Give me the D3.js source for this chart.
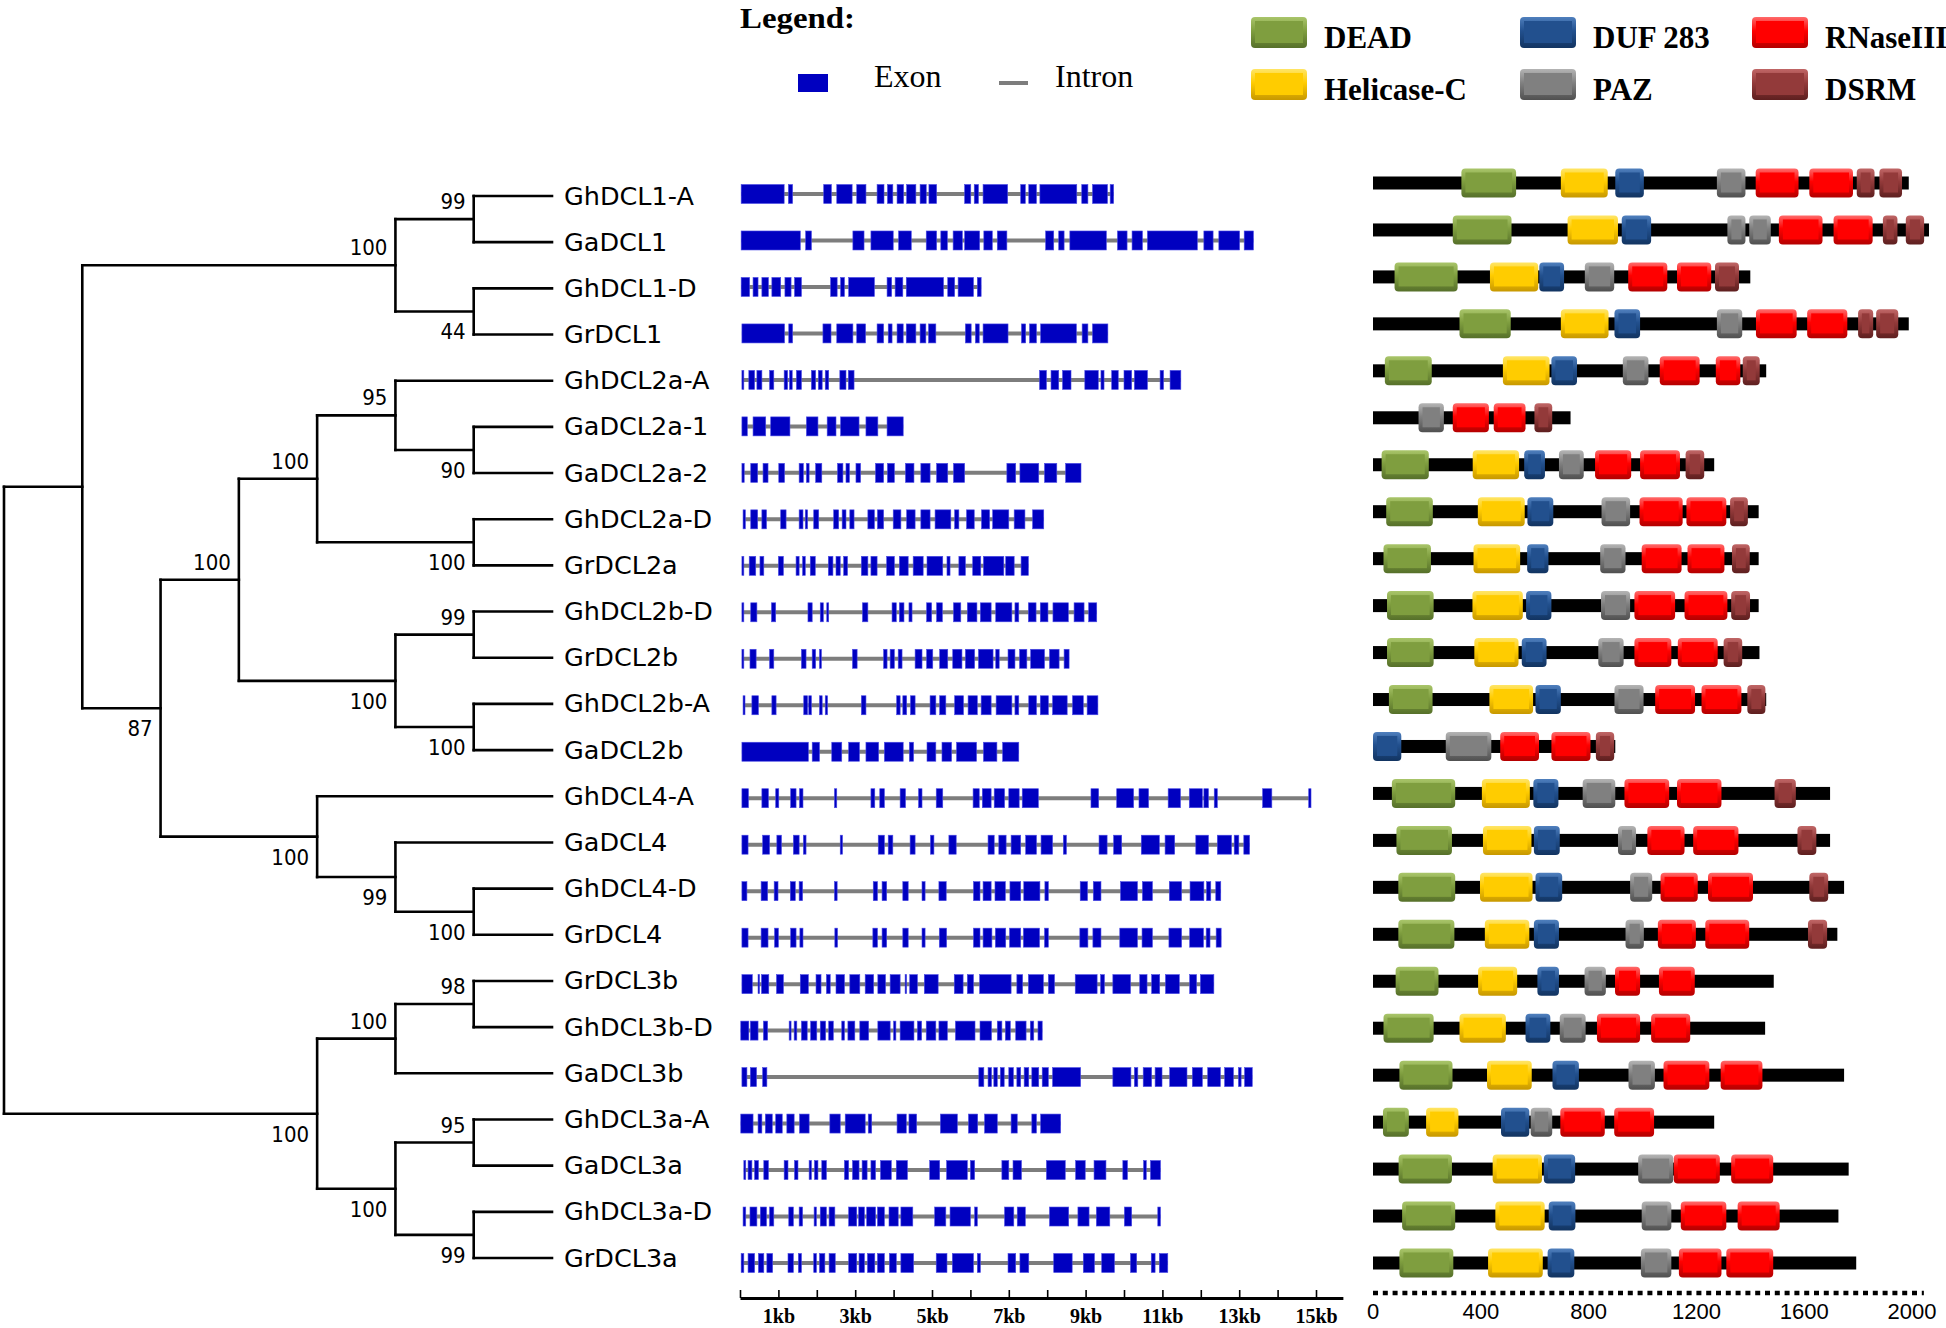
<!DOCTYPE html>
<html><head><meta charset="utf-8">
<script src="https://cdn.jsdelivr.net/npm/d3@7"></script>
<style>body{margin:0;background:#fff} svg{display:block}</style>
</head><body>
<svg id="chart" width="1946" height="1328"></svg>
<script>
// ---------------- DATA ----------------
const newick = "((((GhDCL1-A,GaDCL1)99,(GhDCL1-D,GrDCL1)44)100,((((GhDCL2a-A,(GaDCL2a-1,GaDCL2a-2)90)95,(GhDCL2a-D,GrDCL2a)100)100,((GhDCL2b-D,GrDCL2b)99,(GhDCL2b-A,GaDCL2b)100)100)100,(GhDCL4-A,(GaDCL4,(GhDCL4-D,GrDCL4)100)99)100)87),(((GrDCL3b,GhDCL3b-D)98,GaDCL3b)100,((GhDCL3a-A,GaDCL3a)95,(GhDCL3a-D,GrDCL3a)99)100)100);";

// exon coordinates (kb) per gene, in tree order
const exons = [
 [[0.03,1.15],[1.26,1.37],[2.18,2.38],[2.52,2.92],[3.04,3.28],[3.57,3.75],[3.84,3.98],[4.09,4.26],[4.34,4.58],[4.69,4.85],[4.92,5.12],[5.85,6.01],[6.1,6.21],[6.33,6.97],[7.31,7.43],[7.52,7.72],[7.81,8.77],[8.9,9.06],[9.18,9.57],[9.64,9.73]],
 [[0.03,1.57],[1.71,1.86],[2.94,3.23],[3.41,3.99],[4.13,4.46],[4.85,5.12],[5.23,5.4],[5.55,5.79],[5.85,6.24],[6.35,6.57],[6.7,6.95],[7.96,8.17],[8.3,8.44],[8.59,9.54],[9.83,10.08],[10.21,10.48],[10.61,11.91],[12.08,12.32],[12.47,13.01],[13.13,13.37]],
 [[0.03,0.25],[0.34,0.47],[0.57,0.74],[0.83,1.06],[1.17,1.33],[1.42,1.6],[2.36,2.53],[2.62,2.72],[2.83,3.5],[3.83,3.95],[4.04,4.24],[4.33,5.3],[5.41,5.59],[5.68,6.08],[6.18,6.28]],
 [[0.05,1.16],[1.27,1.37],[2.16,2.37],[2.52,2.94],[3.04,3.27],[3.57,3.74],[3.86,3.96],[4.09,4.25],[4.33,4.58],[4.69,4.84],[4.91,5.1],[5.87,6.02],[6.13,6.23],[6.33,6.98],[7.33,7.44],[7.54,7.72],[7.83,8.76],[8.91,9.06],[9.18,9.58]],
 [[0.05,0.1],[0.23,0.38],[0.44,0.57],[0.77,0.88],[1.15,1.24],[1.29,1.36],[1.47,1.6],[1.86,1.97],[2.04,2.14],[2.22,2.31],[2.6,2.76],[2.82,2.97],[7.8,7.98],[8.1,8.3],[8.4,8.62],[8.98,9.33],[9.4,9.48],[9.68,9.85],[10.0,10.2],[10.27,10.61],[10.94,11.03],[11.2,11.48]],
 [[0.05,0.19],[0.34,0.67],[0.8,1.3],[1.73,2.03],[2.27,2.5],[2.62,3.1],[3.28,3.59],[3.83,4.25]],
 [[0.05,0.11],[0.28,0.46],[0.6,0.73],[1.01,1.16],[1.54,1.65],[1.73,1.8],[1.97,2.13],[2.54,2.68],[2.76,2.85],[3.02,3.14],[3.53,3.74],[3.84,4.02],[4.31,4.53],[4.71,4.95],[5.12,5.41],[5.56,5.85],[6.95,7.18],[7.29,7.78],[7.93,8.25],[8.48,8.88]],
 [[0.08,0.14],[0.28,0.46],[0.57,0.69],[1.06,1.2],[1.54,1.64],[1.7,1.76],[1.92,2.05],[2.44,2.57],[2.66,2.76],[2.86,2.97],[3.33,3.5],[3.58,3.74],[3.99,4.19],[4.34,4.56],[4.71,4.95],[5.08,5.49],[5.59,5.7],[5.9,6.1],[6.29,6.5],[6.58,7.0],[7.14,7.42],[7.62,7.91]],
 [[0.05,0.1],[0.24,0.41],[0.52,0.62],[1.0,1.13],[1.46,1.54],[1.63,1.7],[1.83,1.96],[2.3,2.42],[2.5,2.61],[2.7,2.8],[3.16,3.33],[3.41,3.57],[3.82,4.02],[4.15,4.38],[4.51,4.77],[4.87,5.28],[5.39,5.47],[5.7,5.87],[6.06,6.27],[6.34,6.87],[6.92,7.14],[7.32,7.51]],
 [[0.05,0.1],[0.28,0.44],[0.82,0.93],[1.77,1.88],[2.09,2.17],[2.26,2.31],[3.19,3.33],[3.96,4.07],[4.15,4.27],[4.4,4.48],[4.86,4.99],[5.12,5.27],[5.56,5.75],[5.92,6.17],[6.26,6.54],[6.66,7.08],[7.16,7.26],[7.51,7.71],[7.82,8.02],[8.15,8.55],[8.7,8.96],[9.08,9.29]],
 [[0.05,0.1],[0.26,0.42],[0.77,0.88],[1.6,1.72],[1.88,1.97],[2.07,2.12],[2.93,3.05],[3.74,3.83],[3.91,4.02],[4.12,4.22],[4.56,4.74],[4.86,5.02],[5.2,5.41],[5.54,5.78],[5.87,6.11],[6.21,6.59],[6.66,6.75],[6.98,7.16],[7.28,7.47],[7.57,7.93],[8.06,8.31],[8.44,8.57]],
 [[0.08,0.13],[0.31,0.48],[0.83,0.94],[1.66,1.76],[1.79,1.86],[2.07,2.14],[2.22,2.28],[3.16,3.28],[4.08,4.17],[4.24,4.34],[4.44,4.56],[4.95,5.1],[5.2,5.36],[5.59,5.82],[5.94,6.18],[6.28,6.54],[6.67,7.08],[7.16,7.26],[7.52,7.72],[7.82,8.03],[8.14,8.52],[8.66,8.94],[9.04,9.32]],
 [[0.05,1.78],[1.88,2.07],[2.39,2.65],[2.83,3.11],[3.28,3.61],[3.76,4.25],[4.41,4.52],[4.87,5.1],[5.26,5.51],[5.64,6.16],[6.34,6.69],[6.84,7.26]],
 [[0.05,0.22],[0.57,0.74],[0.93,1.01],[1.32,1.46],[1.55,1.64],[2.46,2.52],[3.41,3.51],[3.64,3.76],[4.17,4.31],[4.65,4.74],[5.11,5.28],[6.07,6.23],[6.31,6.54],[6.62,6.89],[7.0,7.27],[7.35,7.77],[9.14,9.34],[9.81,10.25],[10.39,10.64],[11.15,11.47],[11.7,12.04],[12.08,12.2],[12.35,12.43],[13.61,13.85],[14.81,14.87]],
 [[0.05,0.21],[0.59,0.77],[0.96,1.08],[1.39,1.54],[1.65,1.72],[2.61,2.67],[3.6,3.76],[3.86,3.98],[4.43,4.56],[4.96,5.05],[5.44,5.63],[6.46,6.62],[6.74,6.93],[7.06,7.31],[7.44,7.72],[7.84,8.14],[8.42,8.5],[9.35,9.56],[9.73,9.94],[10.45,10.92],[11.07,11.32],[11.87,12.2],[12.43,12.8],[12.87,12.99],[13.12,13.27]],
 [[0.05,0.18],[0.55,0.72],[0.89,0.99],[1.31,1.44],[1.54,1.63],[2.46,2.53],[3.47,3.58],[3.7,3.82],[4.24,4.38],[4.74,4.82],[5.18,5.37],[6.08,6.25],[6.33,6.54],[6.64,6.91],[7.03,7.31],[7.39,7.81],[7.94,8.03],[8.86,9.05],[9.2,9.4],[9.91,10.35],[10.48,10.74],[11.18,11.5],[11.72,12.08],[12.15,12.26],[12.39,12.52]],
 [[0.05,0.21],[0.55,0.73],[0.9,1.0],[1.32,1.46],[1.56,1.64],[2.47,2.54],[3.46,3.58],[3.7,3.82],[4.24,4.38],[4.74,4.82],[5.19,5.38],[6.08,6.25],[6.33,6.56],[6.65,6.92],[7.02,7.31],[7.38,7.8],[7.93,8.03],[8.85,9.06],[9.19,9.4],[9.89,10.35],[10.47,10.74],[11.17,11.5],[11.71,12.07],[12.14,12.24],[12.4,12.53]],
 [[0.05,0.32],[0.47,0.5],[0.56,0.75],[0.95,1.13],[1.57,1.78],[1.98,2.11],[2.25,2.35],[2.5,2.72],[2.86,3.12],[3.26,3.48],[3.59,3.79],[3.91,4.17],[4.3,4.33],[4.42,4.62],[4.8,5.16],[5.58,5.81],[5.92,6.08],[6.24,7.06],[7.21,7.36],[7.51,7.9],[8.03,8.19],[8.73,9.3],[9.39,9.49],[9.71,10.17],[10.41,10.6],[10.72,10.93],[11.08,11.44],[11.71,11.89],[11.99,12.34]],
 [[0.02,0.23],[0.27,0.47],[0.61,0.72],[1.28,1.33],[1.41,1.48],[1.6,1.75],[1.84,2.0],[2.09,2.23],[2.31,2.43],[2.65,2.72],[2.81,2.99],[3.12,3.35],[3.59,3.91],[4.0,4.06],[4.17,4.53],[4.62,4.73],[4.85,5.1],[5.18,5.4],[5.61,6.12],[6.25,6.55],[6.7,6.82],[6.91,7.04],[7.18,7.45],[7.56,7.65],[7.76,7.87]],
 [[0.05,0.18],[0.27,0.43],[0.59,0.7],[6.22,6.35],[6.46,6.55],[6.61,6.7],[6.78,6.88],[7.0,7.12],[7.21,7.31],[7.4,7.52],[7.6,7.78],[7.87,8.03],[8.14,8.87],[9.71,10.18],[10.27,10.36],[10.5,10.72],[10.81,10.99],[11.19,11.64],[11.78,12.04],[12.18,12.51],[12.62,12.85],[12.98,13.05],[13.14,13.34]],
 [[0.02,0.34],[0.47,0.57],[0.66,0.84],[0.93,1.1],[1.22,1.41],[1.55,1.8],[2.34,2.61],[2.74,3.26],[3.34,3.43],[4.09,4.33],[4.4,4.6],[5.22,5.66],[5.95,6.19],[6.37,6.7],[7.06,7.22],[7.6,7.72],[7.83,8.35]],
 [[0.1,0.15],[0.21,0.31],[0.38,0.48],[0.62,0.74],[1.15,1.25],[1.42,1.51],[1.8,1.86],[1.94,2.03],[2.13,2.25],[2.72,2.83],[2.93,3.1],[3.18,3.31],[3.41,3.53],[3.66,3.94],[4.07,4.36],[4.94,5.2],[5.38,5.92],[6.0,6.11],[6.82,7.0],[7.11,7.33],[7.98,8.47],[8.74,8.99],[9.22,9.53],[9.97,10.09],[10.51,10.58],[10.69,10.95]],
 [[0.08,0.15],[0.26,0.44],[0.53,0.69],[0.77,0.88],[1.27,1.39],[1.54,1.63],[1.93,1.99],[2.09,2.25],[2.32,2.47],[2.83,3.04],[3.09,3.24],[3.3,3.53],[3.58,3.76],[3.88,4.12],[4.19,4.5],[5.07,5.36],[5.47,6.0],[6.11,6.18],[6.89,7.13],[7.22,7.43],[8.06,8.56],[8.8,9.09],[9.28,9.63],[10.01,10.2],[10.88,10.95]],
 [[0.03,0.1],[0.21,0.38],[0.48,0.62],[0.7,0.85],[1.25,1.39],[1.52,1.6],[1.92,1.99],[2.07,2.21],[2.32,2.48],[2.83,3.04],[3.1,3.24],[3.32,3.51],[3.58,3.76],[3.89,4.07],[4.19,4.52],[5.11,5.39],[5.53,6.08],[6.18,6.26],[6.98,7.18],[7.29,7.52],[8.17,8.65],[8.94,9.23],[9.42,9.75],[10.17,10.33],[10.71,10.81],[10.92,11.14]]
];

// protein lengths (aa) and domains [type, start, end] (aa), in tree order
const proteinLengths = [1988,2063,1400,1988,1459,733,1266,1431,1431,1431,1434,1459,899,1696,1696,1748,1723,1487,1455,1748,1266,1765,1727,1793];
const domains = [
 [["D",328,531],["H",697,871],["U",899,1005],["P",1276,1382],["R",1420,1579],["R",1619,1781],["S",1795,1861],["S",1879,1963]],
 [["D",296,514],["H",722,909],["U",923,1032],["P",1315,1382],["P",1396,1476],["R",1506,1668],["R",1709,1854],["S",1892,1946],["S",1977,2045]],
 [["D",80,314],["H",434,613],["U",617,709],["P",786,895],["R",947,1092],["R",1128,1255],["S",1269,1358]],
 [["D",321,511],["H",697,874],["U",896,991],["P",1276,1370],["R",1421,1572],["R",1611,1760],["S",1800,1856],["S",1867,1949]],
 [["D",44,218],["H",482,655],["U",662,757],["P",927,1022],["R",1064,1212],["R",1272,1363],["S",1372,1435]],
 [["P",169,263],["R",296,430],["R",448,566],["S",599,665]],
 [["D",32,207],["H",370,542],["U",561,638],["P",690,782],["R",824,958],["R",991,1139],["S",1160,1229]],
 [["D",49,222],["H",389,563],["U",573,669],["P",848,954],["R",989,1149],["R",1163,1311],["S",1325,1391]],
 [["D",39,215],["H",373,546],["U",572,651],["P",843,937],["R",997,1145],["R",1167,1304],["S",1332,1398]],
 [["D",52,225],["H",369,556],["U",568,662],["P",846,954],["R",970,1121],["R",1156,1315],["S",1329,1399]],
 [["D",52,225],["H",376,540],["U",552,644],["P",836,930],["R",970,1107],["R",1131,1279],["S",1301,1370]],
 [["D",59,221],["H",432,594],["U",603,697],["P",896,1004],["R",1047,1195],["R",1219,1367],["S",1389,1456]],
 [["U",0,105],["P",270,439],["R",472,616],["R",662,807],["S",827,895]],
 [["D",70,305],["H",404,582],["U",595,688],["P",778,899],["R",933,1099],["R",1128,1293],["S",1490,1569]],
 [["D",87,293],["H",408,588],["U",597,693],["P",909,976],["R",1018,1156],["R",1188,1356],["S",1575,1645]],
 [["D",94,305],["H",397,592],["U",603,702],["P",954,1036],["R",1067,1205],["R",1243,1410],["S",1619,1689]],
 [["D",94,302],["H",415,580],["U",597,690],["P",937,1005],["R",1057,1198],["R",1233,1396],["S",1614,1685]],
 [["D",84,243],["H",390,535],["U",610,690],["P",785,864],["R",898,991],["R",1061,1194]],
 [["D",39,225],["H",321,493],["U",566,658],["P",693,789],["R",831,991],["R",1032,1177]],
 [["D",98,295],["H",423,589],["U",666,764],["P",948,1046],["R",1078,1248],["R",1290,1445]],
 [["D",37,133],["H",197,317],["U",475,580],["P",585,665],["R",695,860],["R",895,1043]],
 [["D",95,293],["H",444,627],["U",634,750],["P",984,1114],["R",1116,1287],["R",1329,1485]],
 [["D",108,305],["H",454,637],["U",652,751],["P",997,1107],["R",1142,1311],["R",1353,1509]],
 [["D",98,298],["H",427,630],["U",648,747],["P",994,1107],["R",1135,1293],["R",1311,1485]]
];

const domainKeys = ["D","H","U","P","R","S"];
const domainLabels = ["DEAD","Helicase-C","DUF 283","PAZ","RNaseIII","DSRM"];
const domainFace  = ["#7f9e3f","#ffcc00","#22508e","#808080","#ff0000","#933a3a"];
const domainLight = ["#a9c56a","#ffe566","#4f7fbd","#b4b4b4","#ff6a6a","#c06666"];
const domainDark  = ["#56702a","#c79800","#123461","#505050","#b40000","#5e1f1f"];

const kbTicks = d3.range(0, 16);
const aaTicks = [0, 400, 800, 1200, 1600, 2000];

// ---------------- HELPERS ----------------
function parseNewick(s){
  let i = 0;
  function node(){
    const n = {};
    if (s[i] === '('){
      i++; n.children = [node()];
      while (s[i] === ','){ i++; n.children.push(node()); }
      i++;
    }
    let tok = '';
    while (i < s.length && !',();'.includes(s[i])) tok += s[i++];
    if (n.children){ if (tok) n.support = +tok; } else n.name = tok;
    return n;
  }
  return node();
}

const svg = d3.select("#chart");
const defs = svg.append("defs");
domainKeys.forEach((k, i) => {
  const g = defs.append("linearGradient").attr("id", "bev-" + k)
    .attr("x1", 0).attr("y1", 0).attr("x2", 0).attr("y2", 1);
  g.append("stop").attr("offset", "0%").attr("stop-color", domainLight[i]);
  g.append("stop").attr("offset", "45%").attr("stop-color", domainFace[i]);
  g.append("stop").attr("offset", "100%").attr("stop-color", domainDark[i]);
});

function bevelBox(g, x, y, w, h, k){
  const i = domainKeys.indexOf(k);
  g.append("rect").attr("x", x).attr("y", y).attr("width", w).attr("height", h)
    .attr("rx", 4).attr("fill", "url(#bev-" + k + ")");
  const ins = Math.min(4, w / 4);
  g.append("rect").attr("x", x + ins).attr("y", y + 4).attr("width", Math.max(w - 2 * ins, 1))
    .attr("height", h - 9).attr("fill", domainFace[i]);
}

// ---------------- TREE ----------------
const root = d3.hierarchy(parseNewick(newick));
const names = root.leaves().map(d => d.data.name);
const yTree = d3.scalePoint().domain(names).range([196, 1258]);
const xTree = d3.scaleLinear().domain([root.height, 0]).range([4, 552]);
root.eachAfter(n => {
  n.px = xTree(n.height);
  n.py = n.children ? (n.children[0].py + n.children[n.children.length - 1].py) / 2 : yTree(n.data.name);
});

const gTree = svg.append("g").attr("stroke", "#000").attr("stroke-width", 2.6)
  .attr("stroke-linecap", "square").attr("fill", "none");
root.descendants().forEach(n => {
  if (n.parent){
    gTree.append("line").attr("x1", n.parent.px).attr("x2", n.px).attr("y1", n.py).attr("y2", n.py);
  }
  if (n.children){
    gTree.append("line").attr("x1", n.px).attr("x2", n.px)
      .attr("y1", n.children[0].py).attr("y2", n.children[n.children.length - 1].py);
  }
});

const gTxt = svg.append("g");
root.leaves().forEach(n => {
  gTxt.append("text").attr("x", 564).attr("y", n.py + 8.5)
    .attr("font-family", "DejaVu Sans").attr("font-size", 25.5).attr("fill", "#000")
    .text(n.data.name);
});
root.descendants().filter(n => n.children && n.data.support != null && n.parent).forEach(n => {
  const first = n.parent.children[0] === n;
  gTxt.append("text").attr("x", n.px - 8).attr("y", first ? n.py - 10 : n.py + 28)
    .attr("text-anchor", "end").attr("font-family", "DejaVu Sans Condensed")
    .attr("font-size", 22).attr("fill", "#000").text(n.data.support);
});

// ---------------- GENE STRUCTURE ----------------
const yGene = d3.scalePoint().domain(names).range([194, 1263]);
const xGene = d3.scaleLinear().domain([0, 15.7]).range([740, 740 + 15.7 * 38.4]);
const gGene = svg.append("g");
names.forEach((nm, i) => {
  const ex = exons[i];
  const y = yGene(nm);
  const s = d3.min(ex, d => d[0]), e = d3.max(ex, d => d[1]);
  gGene.append("line").attr("x1", xGene(s)).attr("x2", xGene(e)).attr("y1", y).attr("y2", y)
    .attr("stroke", "#7d7d7d").attr("stroke-width", 4);
  gGene.selectAll(null).data(ex).enter().append("rect")
    .attr("x", d => xGene(d[0])).attr("width", d => Math.max(xGene(d[1]) - xGene(d[0]), 1.5))
    .attr("y", y - 9.5).attr("height", 19)
    .attr("fill", "#0000c0").attr("stroke", "#4a4ae6").attr("stroke-width", 0.6);
});

const axG = svg.append("g").attr("transform", "translate(0,1298)")
  .call(d3.axisBottom(xGene).tickValues(kbTicks).tickSizeInner(-8).tickSizeOuter(0).tickPadding(11)
    .tickFormat(d => d % 2 === 1 ? d + "kb" : ""));
axG.select(".domain").attr("stroke", "#000").attr("stroke-width", 3);
axG.selectAll(".tick line").attr("stroke", "#000").attr("stroke-width", 1.6);
axG.selectAll(".tick text").attr("font-family", "Liberation Serif").attr("font-weight", "bold")
  .attr("font-size", 20).attr("fill", "#000");

// ---------------- DOMAINS ----------------
const yDom = d3.scalePoint().domain(names).range([183, 1263]);
const xDom = d3.scaleLinear().domain([0, 2000]).range([1373, 1912]);
const gDom = svg.append("g");
names.forEach((nm, i) => {
  const y = yDom(nm);
  gDom.append("rect").attr("x", xDom(0)).attr("y", y - 6.5)
    .attr("width", xDom(proteinLengths[i]) - xDom(0)).attr("height", 13).attr("fill", "#000");
  domains[i].forEach(d => {
    bevelBox(gDom, xDom(d[1]), y - 14.5, xDom(d[2]) - xDom(d[1]), 29, d[0]);
  });
});

svg.append("line").attr("x1", xDom(0)).attr("x2", xDom(2044)).attr("y1", 1293).attr("y2", 1293)
  .attr("stroke", "#000").attr("stroke-width", 4.5).attr("stroke-dasharray", "5,4.8");
svg.append("g").selectAll("text").data(aaTicks).enter().append("text")
  .attr("x", d => xDom(d)).attr("y", 1319).attr("text-anchor", "middle")
  .attr("font-family", "Liberation Sans").attr("font-size", 22).attr("fill", "#000")
  .text(d => d);

// ---------------- LEGEND ----------------
const lg = svg.append("g").attr("font-family", "Liberation Serif").attr("fill", "#000");
lg.append("text").attr("x", 740).attr("y", 28).attr("font-weight", "bold").attr("font-size", 30)
  .attr("textLength", 115).attr("lengthAdjust", "spacingAndGlyphs").text("Legend:");
lg.append("rect").attr("x", 798).attr("y", 74).attr("width", 30).attr("height", 18).attr("fill", "#0000c0");
lg.append("text").attr("x", 874).attr("y", 87).attr("font-size", 32).text("Exon");
lg.append("line").attr("x1", 999).attr("x2", 1028).attr("y1", 83).attr("y2", 83)
  .attr("stroke", "#7d7d7d").attr("stroke-width", 4);
lg.append("text").attr("x", 1055).attr("y", 87).attr("font-size", 32).text("Intron");

const legOrder = ["D", "U", "R", "H", "P", "S"];
const colX = [1251, 1520, 1752];
const rowY = [17, 69];
legOrder.forEach((k, j) => {
  const c = j % 3, r = Math.floor(j / 3);
  bevelBox(lg, colX[c], rowY[r], 56, 31, k);
  lg.append("text").attr("x", colX[c] + 73).attr("y", rowY[r] + 31)
    .attr("font-weight", "bold").attr("font-size", 31)
    .text(domainLabels[domainKeys.indexOf(k)]);
});
</script>
</body></html>
